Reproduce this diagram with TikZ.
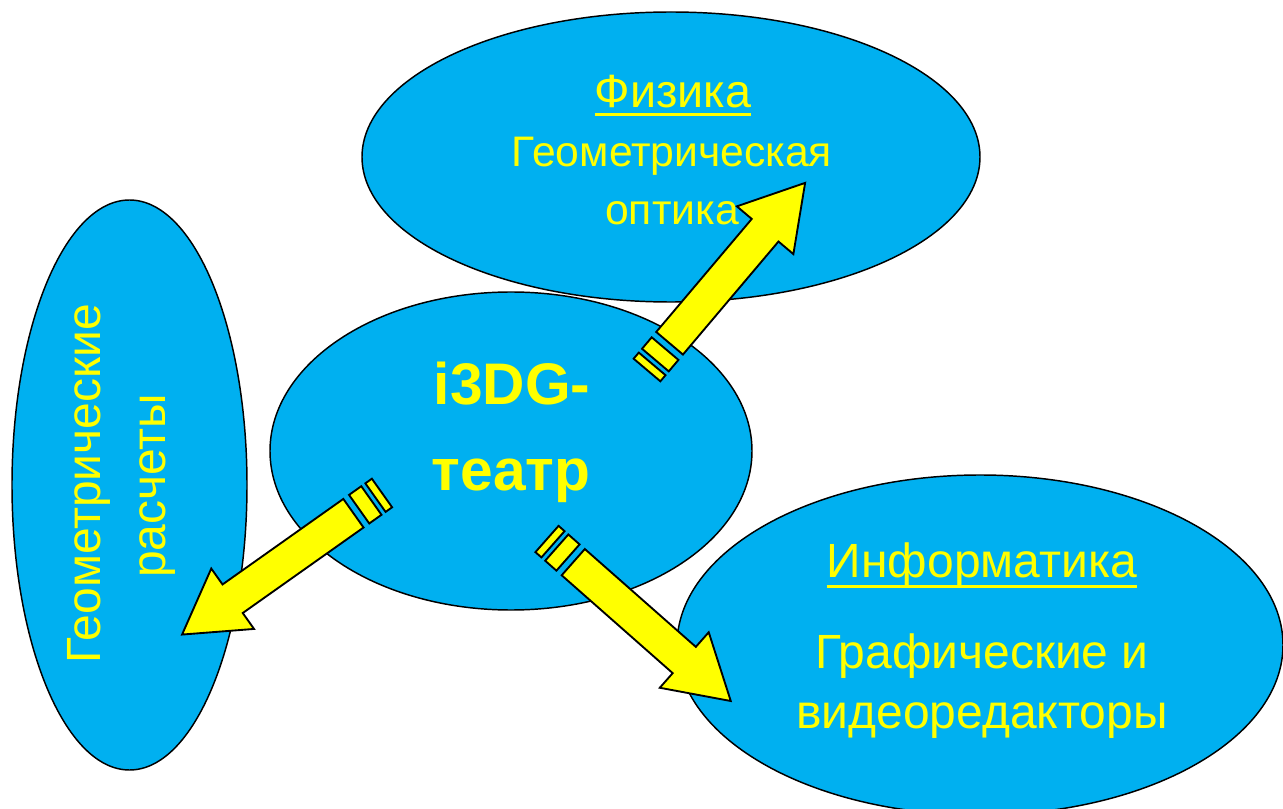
\documentclass[tikz,border=0pt]{standalone}
\usepackage{fontspec}
\setmainfont{Liberation Sans}
\usetikzlibrary{shapes.geometric}
\definecolor{sky}{RGB}{0,176,240}
\definecolor{yel}{RGB}{255,255,0}
\tikzset{
  blob/.style={ellipse, draw=black, fill=sky, line width=1.1pt, inner sep=0pt},
  arrowbody/.style={draw=black, fill=yel, line width=1.4pt, line join=miter},
  lbl/.style={text=yel, inner sep=0pt, anchor=base},
  ulin/.style={draw=yel, line width=2.25pt},
  striped/.pic={
    \path[arrowbody] (0,-17.5) rectangle (8,17.5);
    \path[arrowbody] (13,-17.5) rectangle (28,17.5);
    \path[arrowbody] (35,-17.5) -- (183,-17.5) -- (183,-37) -- (245,0)
        -- (183,37) -- (183,17.5) -- (35,17.5) -- cycle;
  }
}
\begin{document}
\begin{tikzpicture}[x=0.75pt,y=-0.75pt]
\useasboundingbox (0,0) rectangle (1283,809);
\clip (0,0) rectangle (1283,809);
\fill[white] (0,0) rectangle (1283,809);
% ellipses
\node[blob, minimum width=463.5pt, minimum height=217.5pt] (phys) at (671,157) {};
\node[blob, minimum width=176.25pt, minimum height=427.5pt] (geom) at (129.5,485) {};
\node[blob, minimum width=361.5pt, minimum height=238.5pt] (core) at (511,451) {};
\node[blob, minimum width=454.5pt, minimum height=255pt] (info) at (980,645) {};
% texts: physics
\node[lbl, font=\fontsize{35pt}{40pt}\selectfont] (p1) at (673,108) {Физика};
\draw[ulin] ([yshift=-5pt]p1.base west) -- ([yshift=-5pt]p1.base east);
\node[lbl, font=\fontsize{32pt}{38pt}\selectfont] (p2) at (672,167) {Геометрическая};
\node[lbl, font=\fontsize{32pt}{38pt}\selectfont] (p3) at (672,225) {оптика};
% centre
\node[lbl, font=\fontsize{44pt}{50pt}\selectfont\bfseries] (c1) at (512,405) {i3DG-};
\node[lbl, font=\fontsize{44pt}{50pt}\selectfont\bfseries] (c2) at (511,490) {театр};
% informatics
\node[lbl, font=\fontsize{36pt}{42pt}\selectfont] (i1) at (982,577) {Информатика};
\draw[ulin] ([yshift=-6.75pt]i1.base west) -- ([yshift=-6.75pt]i1.base east);
\node[lbl, font=\fontsize{36pt}{42pt}\selectfont] (i2) at (982,668) {Графические и};
\node[lbl, font=\fontsize{36pt}{42pt}\selectfont] (i3) at (982,728) {видеоредакторы};
% left rotated
\node[lbl, rotate=90, font=\fontsize{36pt}{42pt}\selectfont] (g1) at (100,484) {Геометрические};
\node[lbl, rotate=90, font=\fontsize{36pt}{42pt}\selectfont] (g2) at (165,486) {расчеты};
% arrows
\coordinate (t1) at (647,370);
\coordinate (t2) at (382,493);
\coordinate (t3) at (547,539);
\pic[rotate=49.8] at (t1) {striped};
\pic[rotate=215.3] at (t2) {striped};
\pic[rotate=-41.4] at (t3) {striped};
\end{tikzpicture}
\end{document}
